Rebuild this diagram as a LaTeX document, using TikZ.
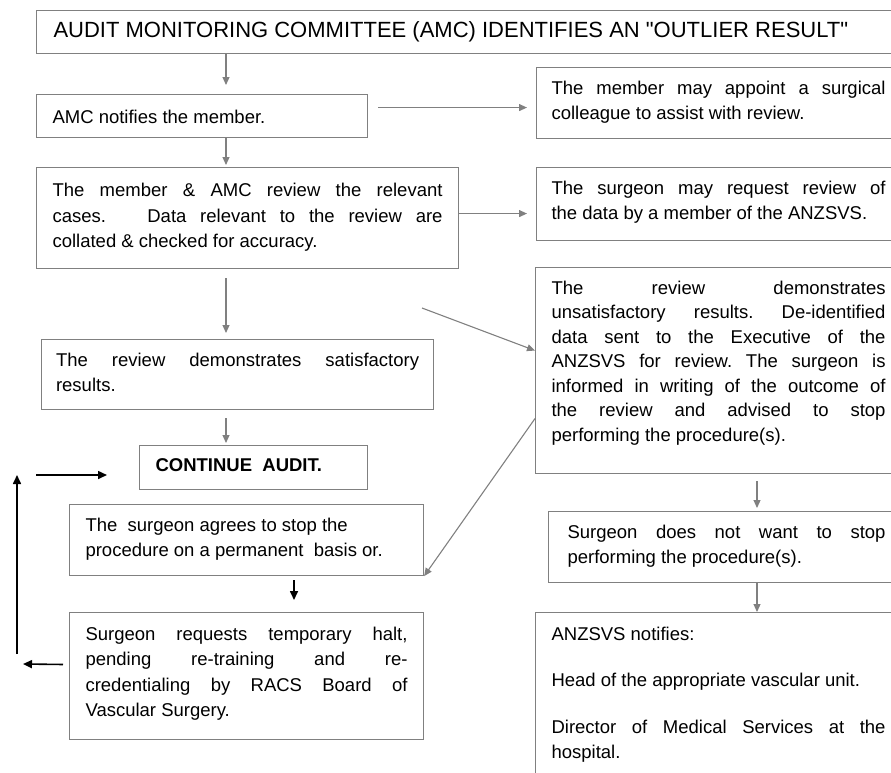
\documentclass[tikz,border=0pt]{standalone}
\usepackage{fontspec}
\setmainfont{Liberation Sans}
\usetikzlibrary{arrows.meta}
\definecolor{linegray}{RGB}{128,128,128}
% text block: width, height, rise of first baseline, text
\newcommand{\flowtext}[4]{\parbox[b][#2][t]{#1}{\frenchspacing\tolerance=10000 \hbadness=10000 \rule{0pt}{#3}#4}}

\begin{document}
\begin{tikzpicture}[x=1pt,y=-1pt,
  box/.style={draw=linegray,line width=1.1pt,anchor=north west,inner ysep=0pt,inner xsep=16pt,
    font=\fontsize{18.5}{25.5}\selectfont},
  garr/.style={draw=linegray,line width=1.1pt,-{Triangle[length=8pt,width=7pt]}},
  barr/.style={draw=black,line width=1.6pt,-{Triangle[length=9pt,width=8pt]}}]
  \useasboundingbox (0,0) rectangle (891,772);
  % left column
  \node[box,inner xsep=17pt,font=\fontsize{22}{26}\selectfont] (title) at (36,10)
    {\flowtext{830pt}{43pt}{27.4pt}{AUDIT MONITORING COMMITTEE (AMC) IDENTIFIES AN
      \textquotedbl OUTLIER RESULT\textquotedbl}};
  \node[box] (amc) at (36,94)
    {\flowtext{299pt}{43pt}{29pt}{AMC notifies the member.}};
  \node[box] (member) at (36,167)
    {\flowtext{390pt}{101pt}{29pt}{The member \& AMC review the relevant\linebreak
      cases.\ \ \ Data relevant to the review are\linebreak collated \& checked for accuracy.}};
  \node[box,inner xsep=14.5pt] (sat) at (41,339)
    {\flowtext{363pt}{70pt}{26.6pt}{The review demonstrates satisfactory\linebreak results.}};
  \node[box,font=\fontsize{18.5}{25.5}\selectfont\bfseries] (cont) at (139,445)
    {\flowtext{196pt}{44pt}{26pt}{CONTINUE\ \ AUDIT.}};
  \node[box] (agree) at (69,504)
    {\flowtext{322pt}{71pt}{26.6pt}{The\ \ surgeon agrees to stop the\newline
      procedure on a permanent\ \ basis or.}};
  \node[box] (req) at (69,612)
    {\flowtext{322pt}{127pt}{27.6pt}{Surgeon requests temporary halt,\linebreak
      pending re-training and re-\linebreak credentialing by RACS Board of\linebreak
      Vascular Surgery.}};
  % right column
  \node[box,inner xsep=15pt] (rb1) at (536,67)
    {\flowtext{334pt}{71pt}{26.6pt}{The member may appoint a surgical\linebreak
      colleague to assist with review.}};
  \node[box,inner xsep=15pt] (rb2) at (536,167)
    {\flowtext{334pt}{73pt}{26.6pt}{The surgeon may request review of\linebreak
      the data by a member of the ANZSVS.}};
  \node[box,font=\fontsize{18.5}{24.5}\selectfont] (rb3) at (535,267)
    {\flowtext{334pt}{206pt}{26.6pt}{The review demonstrates\linebreak
      unsatisfactory results. De-identified\linebreak
      data sent to the Executive of the\linebreak
      ANZSVS for review. The surgeon is\linebreak
      informed in writing of the outcome of\linebreak
      the review and advised to stop\linebreak
      performing the procedure(s).}};
  \node[box,inner xsep=19pt] (rb4) at (548,511)
    {\flowtext{318pt}{71pt}{26.6pt}{Surgeon does not want to stop\linebreak
      performing the procedure(s).}};
  \node[box] (anz) at (535,612)
    {\flowtext{334pt}{180pt}{27.6pt}{ANZSVS notifies:\par\vspace{21pt}
      Head of the appropriate vascular unit.\par\vspace{21pt}
      Director of Medical Services at the\linebreak hospital.}};
  % columns of the vertical arrows
  \coordinate (colL) at (226,0);
  \coordinate (colM) at (294,0);
  \coordinate (colR) at (757,0);
  \coordinate (diagA) at (422,308);
  \coordinate (loopL) at (23,664);
  \coordinate (loopB) at (17,654);
  \coordinate (loopT) at (17,475);
  \coordinate (loopR) at (36,475);
  \draw[garr,shorten >=9pt] (title.south -| colL) -- (amc.north -| colL);
  \draw[garr,shorten >=2pt] (amc.south -| colL) -- (member.north -| colL);
  \draw[garr,shorten <=10pt,shorten >=9pt] ([yshift=8.5pt]amc.east) -- ([yshift=8.5pt]amc.east -| rb1.west);
  \draw[garr,shorten >=9pt] ([yshift=4.5pt]member.east) -- ([yshift=4.5pt]member.east -| rb2.west);
  \draw[garr,shorten <=9pt,shorten >=6pt] (member.south -| colL) -- (sat.north -| colL);
  \draw[garr] (diagA) -- ([yshift=20pt]rb3.west);
  \draw[garr] ([yshift=-48pt]rb3.west) -- (agree.south east);
  \draw[garr,shorten <=8pt,shorten >=2pt] (sat.south -| colL) -- (cont.north -| colL);
  \draw[garr,shorten <=7pt,shorten >=3pt] (rb3.south -| colR) -- (rb4.north -| colR);
  \draw[garr] (rb4.south -| colR) -- (anz.north -| colR);
  % black loop on the left
  \draw[barr,shorten <=4pt,shorten >=12pt] (agree.south -| colM) -- (req.north -| colM);
  \draw[barr,shorten <=6pt] ([yshift=11.5pt]req.west) -- (loopL);
  \draw[barr] (loopB) -- (loopT);
  \draw[barr,shorten >=32pt] (loopR) -- (loopR -| cont.west);
\end{tikzpicture}
\end{document}
